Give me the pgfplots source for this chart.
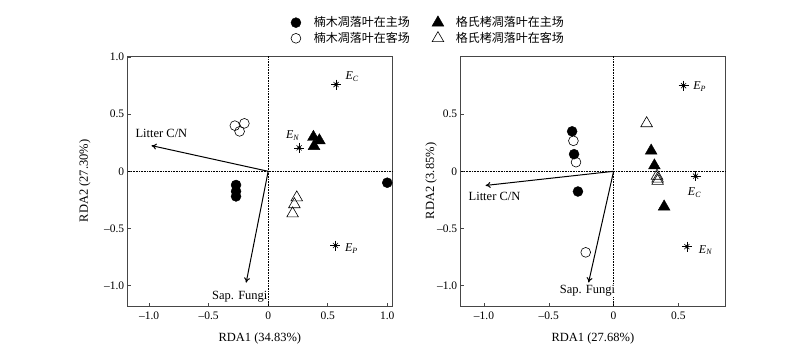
\documentclass[border=0pt]{standalone}
\usepackage{pgfplots}
\pgfplotsset{compat=1.18}
\usepackage{fontspec}
\setmainfont{Liberation Serif}
\newfontfamily\cjk{Noto Sans CJK SC}
\usetikzlibrary{arrows.meta}
\definecolor{axgray}{RGB}{70,70,70}
\tikzset{
  lab/.style={font=\fontsize{12.5}{14}\selectfont},
  elab/.style={font=\fontsize{12}{14}\selectfont\itshape},
}
\pgfplotsset{
  rda/.style={
    scale only axis, width=264.3pt, height=250pt,
    axis line style={axgray, line width=0.8pt},
    tick style={axgray, line width=0.6pt, major tick length=3pt},
    tick pos=left, tick align=inside,
    ticklabel style={font=\fontsize{11.5}{13}\selectfont},
    xticklabel style={yshift=-2pt},
    label style={font=\fontsize{12.5}{14}\selectfont},
    ymin=-1.18, ymax=1.01,
    clip=false,
    legend image code/.code={\path[draw=none,fill=none] (0pt,-3pt) rectangle (22pt,3pt); \draw[##1] plot coordinates {(6pt,0pt)};},
  },
  fc/.style={only marks, mark=*, mark size=5pt, black, mark options={fill=black}},
  oc/.style={only marks, mark=o, mark size=4.9pt, black, mark options={fill=white, line width=0.6pt}},
  ft/.style={only marks, mark=triangle*, mark size=6.8pt, black, mark options={fill=black}},
  ot/.style={only marks, mark=triangle, mark size=6.7pt, black, mark options={fill=white, line width=0.6pt}},
  stp/.style={only marks, mark=+, mark size=5pt, black, mark options={line width=0.6pt}},
  stx/.style={only marks, mark=x, mark size=3.6pt, black, mark options={line width=0.6pt}},
  sd/.style={only marks, mark=*, mark size=1.6pt, black},
  vec/.style={black, line width=1pt, -{To[length=5pt,width=6pt]}},
  zl/.style={black, densely dotted, line width=0.6pt},
}
\begin{document}
\begin{tikzpicture}
\useasboundingbox (0,0) rectangle (800pt,357pt);
% ---------------- left panel ----------------
\begin{axis}[rda,
  at={(127.7pt,51pt)}, anchor=south west,
  xmin=-1.18, xmax=1.04,
  xtick={-1,-0.5,0,0.5,1}, xticklabels={–1.0,–0.5,0,0.5,1.0},
  ytick={-1,-0.5,0,0.5,1}, yticklabels={–1.0,–0.5,0,0.5,1.0},
  xlabel={RDA1 (34.83\%)}, ylabel={RDA2 (27.30\%)},
  xlabel style={at={(axis description cs:0.5,-0.128)}, anchor=center},
  ylabel style={at={(axis description cs:-0.162,0.5)}, anchor=center},
  legend style={at={(1.136,1.102)}, anchor=center, draw=none, fill=none,
    legend columns=2, font=\cjk\fontsize{12}{14}\selectfont,
    /tikz/column 2/.style={column sep=20pt},
    row sep=0pt, inner sep=0pt},
  legend cell align=left,
]
\addplot[fc] coordinates {(-0.27,-0.12) (-0.27,-0.175) (-0.27,-0.22) (1.0,-0.10)};
\addlegendentry{楠木凋落叶在主场}
\addplot[ft] coordinates {(0.38,0.30) (0.43,0.27) (0.385,0.22)};
\addlegendentry{格氏栲凋落叶在主场}
\addplot[oc] coordinates {(-0.28,0.40) (-0.20,0.42) (-0.24,0.35)};
\addlegendentry{楠木凋落叶在客场}
\addplot[ot] coordinates {(0.24,-0.23) (0.22,-0.29) (0.205,-0.37)};
\addlegendentry{格氏栲凋落叶在客场}
\addplot[zl, forget plot] coordinates {(-1.18,0) (1.04,0)};
\addplot[zl, forget plot] coordinates {(0,-1.18) (0,1.01)};
\addplot[stp, forget plot] coordinates {(0.57,0.76) (0.26,0.205) (0.565,-0.65)};
\addplot[stx, forget plot] coordinates {(0.57,0.76) (0.26,0.205) (0.565,-0.65)};
\addplot[sd, forget plot] coordinates {(0.57,0.76) (0.26,0.205) (0.565,-0.65)};
\addplot[vec, forget plot] coordinates {(0,0) (-0.98,0.225)};
\addplot[vec, forget plot] coordinates {(0,0) (-0.185,-0.975)};
\node[lab] at (axis cs:-0.897,0.335) {Litter C/N};
\node[lab, fill=white, inner sep=1pt] at (axis cs:-0.238,-1.095) {Sap. Fungi};
\node[elab] at (axis cs:0.705,0.83) {E\textsubscript{C}};
\node[elab] at (axis cs:0.205,0.31) {E\textsubscript{N}};
\node[elab] at (axis cs:0.70,-0.68) {E\textsubscript{P}};
\end{axis}
% ---------------- right panel ----------------
\begin{axis}[rda,
  at={(460.7pt,51pt)}, anchor=south west,
  xmin=-1.18, xmax=0.86,
  xtick={-1,-0.5,0,0.5}, xticklabels={–1.0,–0.5,0,0.5},
  ytick={-1,-0.5,0,0.5}, yticklabels={–1.0,–0.5,0,0.5},
  xlabel={RDA1 (27.68\%)}, ylabel={RDA2 (3.85\%)},
  xlabel style={at={(axis description cs:0.5,-0.128)}, anchor=center},
  ylabel style={at={(axis description cs:-0.112,0.5)}, anchor=center},
]
\addplot[zl] coordinates {(-1.18,0) (0.86,0)};
\addplot[zl] coordinates {(0,-1.18) (0,1.01)};
\addplot[fc] coordinates {(-0.32,0.35) (-0.305,0.15) (-0.275,-0.177)};
\addplot[oc] coordinates {(-0.31,0.267) (-0.29,0.08) (-0.215,-0.71)};
\addplot[ft] coordinates {(0.29,0.18) (0.315,0.05) (0.39,-0.31)};
\addplot[ot] coordinates {(0.255,0.42) (0.335,-0.04) (0.34,-0.065) (0.34,-0.085)};
\addplot[stp] coordinates {(0.54,0.75) (0.633,-0.043) (0.566,-0.66)};
\addplot[stx] coordinates {(0.54,0.75) (0.633,-0.043) (0.566,-0.66)};
\addplot[sd] coordinates {(0.54,0.75) (0.633,-0.043) (0.566,-0.66)};
\addplot[vec] coordinates {(0,0) (-0.988,-0.124)};
\addplot[vec] coordinates {(0,0) (-0.193,-0.974)};
\node[lab] at (axis cs:-0.919,-0.22) {Litter C/N};
\node[lab, fill=white, inner sep=1pt] at (axis cs:-0.202,-1.043) {Sap. Fungi};
\node[elab] at (axis cs:0.665,0.745) {E\textsubscript{P}};
\node[elab] at (axis cs:0.625,-0.19) {E\textsubscript{C}};
\node[elab] at (axis cs:0.71,-0.69) {E\textsubscript{N}};
\end{axis}
\end{tikzpicture}
\end{document}
